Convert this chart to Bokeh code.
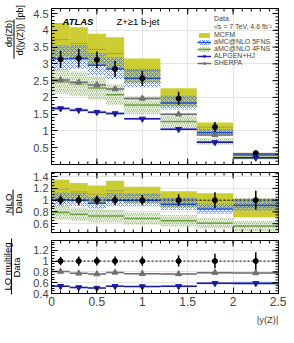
import numpy as np
from bokeh.plotting import figure
from bokeh.layouts import column, row
from bokeh.models import (Range1d, FixedTicker, LinearAxis, Legend, LegendItem,
                          Label, Span, Title)
from bokeh.core.properties import value
from bokeh.embed import file_html
from bokeh.resources import INLINE

# ---------------- data ----------------
bin_edges = [0.0, 0.2, 0.4, 0.6, 0.8, 1.2, 1.6, 2.0, 2.5]
bin_centers = [0.1, 0.3, 0.5, 0.7, 1.0, 1.4, 1.8, 2.25]

data_val = [3.13, 3.17, 3.12, 2.85, 2.57, 1.97, 1.12, 0.34]
data_err = [0.25, 0.27, 0.25, 0.24, 0.22, 0.20, 0.15, 0.055]

mcfm_val = [3.72, 3.61, 3.43, 3.31, 2.80, 2.01, 1.11, 0.30]
mcfm_hi = [4.22, 4.09, 3.90, 3.79, 3.16, 2.27, 1.25, 0.35]
mcfm_lo = [3.19, 3.11, 2.96, 2.85, 2.44, 1.73, 0.96, 0.24]

amc5_val = [3.15, 3.17, 2.96, 2.85, 2.57, 1.83, 0.95, 0.31]
amc5_hi = [3.55, 3.56, 3.33, 3.20, 2.85, 2.05, 1.06, 0.35]
amc5_lo = [2.82, 2.85, 2.66, 2.55, 2.30, 1.64, 0.86, 0.28]

amc4_val = [2.47, 2.41, 2.28, 2.08, 1.77, 1.28, 0.68, 0.19]
amc4_hi = [2.84, 2.77, 2.62, 2.39, 2.04, 1.47, 0.78, 0.22]
amc4_lo = [2.10, 2.05, 1.94, 1.77, 1.50, 1.09, 0.58, 0.16]

alpgen_val = [1.67, 1.62, 1.56, 1.52, 1.36, 1.05, 0.66, 0.20]
alpgen_hi = [1.71, 1.66, 1.60, 1.56, 1.39, 1.08, 0.68, 0.21]
alpgen_lo = [1.63, 1.58, 1.52, 1.48, 1.33, 1.02, 0.64, 0.19]

sherpa_val = [2.52, 2.45, 2.37, 2.25, 1.97, 1.50, 0.88, 0.265]
sherpa_hi = [2.56, 2.49, 2.41, 2.29, 2.00, 1.53, 0.90, 0.27]
sherpa_lo = [2.48, 2.41, 2.33, 2.21, 1.94, 1.47, 0.86, 0.26]

x_ticks = [0, 0.5, 1, 1.5, 2, 2.5]
x_tick_labels = ["0", "0.5", "1", "1.5", "2", "2.5"]
main_ticks = [0.5, 1, 1.5, 2, 2.5, 3, 3.5, 4, 4.5]
main_tick_labels = ["0.5", "1", "1.5", "2", "2.5", "3", "3.5", "4", "4.5"]
nlo_ticks = [0.6, 0.8, 1.0, 1.2, 1.4]
nlo_tick_labels = ["0.6", "0.8", "1", "1.2", "1.4"]
lo_ticks = [0.4, 0.6, 0.8, 1.0, 1.2]
lo_tick_labels = ["0.4", "0.6", "0.8", "1", "1.2"]

# ---------------- helpers ----------------
FONT = "Liberation Sans"
lefts = bin_edges[:-1]
rights = bin_edges[1:]
d = np.array(data_val)

C_MCFM = "#cccc33"
C_MCFM_LINE = "#a5a53a"
C_5F = "#2f5ff0"
C_5F_LINE = "#1f4fd8"
C_4F = "#86b85a"
C_4F_LINE = "#6aa040"
C_ALP = "#1c1ca0"
C_ALP_BAND = "#b4bcec"
C_SHE = "#707070"
C_SHE_BAND = "#cccccc"

XMIN, XMAX = 0.0, 2.5
xr = Range1d(XMIN, XMAX)


def minor_list(lo, hi, step):
    n = int(round((hi - lo) / step))
    return [round(lo + i * step, 4) for i in range(n + 1)]


X_MINOR = minor_list(0, 2.5, 0.1)


def style_axis(ax, font_size):
    ax.axis_line_color = "black"
    ax.major_tick_in = 6
    ax.major_tick_out = 0
    ax.minor_tick_in = 3
    ax.minor_tick_out = 0
    ax.major_tick_line_color = "black"
    ax.minor_tick_line_color = "black"
    ax.major_label_text_font = FONT
    ax.major_label_text_font_size = font_size
    ax.major_label_standoff = 3


def edge_ticks(p, vals, fixed, horizontal, size):
    # inward tick marks on the mirrored frame edges (half of each dash is clipped)
    if horizontal:
        p.scatter(x=[fixed] * len(vals), y=vals, marker="dash", size=size,
                  line_color="black", line_width=1)
    else:
        p.scatter(x=vals, y=[fixed] * len(vals), marker="dash", size=size,
                  angle=np.pi / 2, line_color="black", line_width=1)


def make_fig(h, ylo, yhi, yt, ytl, yminor, bt, bb, xlabels):
    p = figure(width=256, height=h, x_range=xr, y_range=Range1d(ylo, yhi),
               output_backend="svg", toolbar_location=None,
               x_axis_location=None, y_axis_location=None,
               min_border_left=17, min_border_right=8,
               min_border_top=bt, min_border_bottom=bb)
    p.outline_line_color = "black"
    ax = LinearAxis(ticker=FixedTicker(ticks=yt, minor_ticks=yminor))
    style_axis(ax, "11px")
    ax.major_label_overrides = dict(zip(yt, ytl))
    p.add_layout(ax, "left")
    if xlabels:
        bx = LinearAxis(ticker=FixedTicker(ticks=x_ticks, minor_ticks=X_MINOR))
        style_axis(bx, "12px")
        bx.major_label_overrides = dict(zip(x_ticks, x_tick_labels))
        p.add_layout(bx, "below")
    return p


def add_mirror_ticks(p, ylo, yhi, yt, yminor, bottom_too):
    edge_ticks(p, yt, XMAX, True, 12)
    edge_ticks(p, yminor, XMAX, True, 6)
    edge_ticks(p, x_ticks, yhi, False, 12)
    edge_ticks(p, X_MINOR, yhi, False, 6)
    if bottom_too:
        edge_ticks(p, x_ticks, ylo, False, 12)
        edge_ticks(p, X_MINOR, ylo, False, 6)


# ---------------- main panel ----------------
M_LO, M_HI = 0.0, 4.65
m_minor = minor_list(0, 4.6, 0.1)
p1 = make_fig(168, M_LO, M_HI, main_ticks, main_tick_labels, m_minor, 8, 4, False)

r_mcfm = p1.quad(left=lefts, right=rights, top=mcfm_hi, bottom=mcfm_lo,
                 fill_color=C_MCFM, line_color=None)
p1.segment(x0=lefts, x1=rights, y0=mcfm_val, y1=mcfm_val,
           line_color=C_MCFM_LINE, line_width=1)
r_5f = p1.quad(left=lefts, right=rights, top=amc5_hi, bottom=amc5_lo,
               fill_color=None, line_color=None, hatch_pattern="x",
               hatch_color=C_5F, hatch_scale=4, hatch_weight=0.7)
r_5f_l = p1.segment(x0=lefts, x1=rights, y0=amc5_val, y1=amc5_val,
                    line_color=C_5F_LINE, line_width=1.5)
r_4f = p1.quad(left=lefts, right=rights, top=amc4_hi, bottom=amc4_lo,
               fill_color=None, line_color=None, hatch_pattern="/",
               hatch_color=C_4F, hatch_scale=4, hatch_weight=0.8)
r_4f_l = p1.segment(x0=lefts, x1=rights, y0=amc4_val, y1=amc4_val,
                    line_color=C_4F_LINE, line_width=1.5)
p1.quad(left=lefts, right=rights, top=sherpa_hi, bottom=sherpa_lo,
        fill_color=C_SHE_BAND, line_color=None)
r_she_l = p1.segment(x0=lefts, x1=rights, y0=sherpa_val, y1=sherpa_val,
                     line_color=C_SHE, line_width=1.5)
r_she_m = p1.scatter(x=bin_centers, y=sherpa_val, marker="triangle", size=6,
                     fill_color=C_SHE, line_color=C_SHE)
p1.quad(left=lefts, right=rights, top=alpgen_hi, bottom=alpgen_lo,
        fill_color=C_ALP_BAND, line_color=None)
r_alp_l = p1.segment(x0=lefts, x1=rights, y0=alpgen_val, y1=alpgen_val,
                     line_color=C_ALP, line_width=1.5)
r_alp_m = p1.scatter(x=bin_centers, y=alpgen_val, marker="inverted_triangle", size=6,
                     fill_color=C_ALP, line_color=C_ALP)
p1.segment(x0=bin_centers, x1=bin_centers, y0=list(d - np.array(data_err)),
           y1=list(d + np.array(data_err)), line_color="black", line_width=1.5)
p1.scatter(x=bin_centers, y=data_val, marker="circle", size=5,
           fill_color="black", line_color="black")
add_mirror_ticks(p1, M_LO, M_HI, main_ticks, m_minor, True)

# legend helper renderers (empty)
r_cross = p1.scatter(x=[], y=[], marker="cross", size=9, line_color="black", line_width=1.3)
r_dot = p1.scatter(x=[], y=[], marker="circle", size=4, fill_color="black", line_color="black")
r_blank = p1.scatter(x=[], y=[], marker="circle", size=1, fill_alpha=0, line_alpha=0)

legend = Legend(items=[
    LegendItem(label="Data", renderers=[r_cross, r_dot]),
    LegendItem(label="\u221as = 7 TeV, 4.6 fb\u207b\u00b9", renderers=[r_blank]),
    LegendItem(label="MCFM", renderers=[r_mcfm]),
    LegendItem(label="aMC@NLO 5FNS", renderers=[r_5f, r_5f_l]),
    LegendItem(label="aMC@NLO 4FNS", renderers=[r_4f, r_4f_l]),
    LegendItem(label="ALPGEN+HJ", renderers=[r_alp_l, r_alp_m]),
    LegendItem(label="SHERPA", renderers=[r_she_l, r_she_m]),
], location=(146, 98), label_text_font=FONT, label_text_font_size="7px",
    glyph_width=14, glyph_height=6, label_height=6, spacing=0, padding=0, margin=0,
    label_standoff=3, border_line_color=None, background_fill_alpha=0)
p1.add_layout(legend)

p1.add_layout(Label(x=11, y=143, x_units="screen", y_units="screen", text="ATLAS",
                    text_font=FONT, text_font_style="bold italic", text_font_size="9.5px",
                    text_baseline="middle", text_color="black"))
p1.add_layout(Label(x=65, y=143, x_units="screen", y_units="screen", text="Z+\u22651 b-jet",
                    text_font=FONT, text_font_size="9.5px", text_baseline="middle",
                    text_color="black"))

# ---------------- NLO ratio panel ----------------
N_LO, N_HI = 0.45, 1.47
n_minor = minor_list(0.45, 1.45, 0.05)
p2 = make_fig(68, N_LO, N_HI, nlo_ticks, nlo_tick_labels, n_minor, 4, 4, False)
p2.quad(left=lefts, right=rights, top=list(np.array(mcfm_hi) / d),
        bottom=list(np.array(mcfm_lo) / d), fill_color=C_MCFM, line_color=None)
p2.segment(x0=lefts, x1=rights, y0=list(np.array(mcfm_val) / d),
           y1=list(np.array(mcfm_val) / d), line_color=C_MCFM_LINE, line_width=1)
p2.quad(left=lefts, right=rights, top=list(np.array(amc5_hi) / d),
        bottom=list(np.array(amc5_lo) / d), fill_color=None, line_color=None,
        hatch_pattern="x", hatch_color=C_5F, hatch_scale=4, hatch_weight=0.7)
p2.segment(x0=lefts, x1=rights, y0=list(np.array(amc5_val) / d),
           y1=list(np.array(amc5_val) / d), line_color=C_5F_LINE, line_width=1.5)
p2.quad(left=lefts, right=rights, top=list(np.array(amc4_hi) / d),
        bottom=list(np.array(amc4_lo) / d), fill_color=None, line_color=None,
        hatch_pattern="/", hatch_color=C_4F, hatch_scale=4, hatch_weight=0.8)
p2.segment(x0=lefts, x1=rights, y0=list(np.array(amc4_val) / d),
           y1=list(np.array(amc4_val) / d), line_color=C_4F_LINE, line_width=1.5)
p2.add_layout(Span(location=1, dimension="width", line_color="black",
                   line_dash="2 2", line_width=1))
rel = np.array(data_err) / d
p2.segment(x0=bin_centers, x1=bin_centers, y0=list(1 - rel), y1=list(1 + rel),
           line_color="black", line_width=1.5)
p2.scatter(x=bin_centers, y=[1] * len(bin_centers), marker="circle", size=5,
           fill_color="black", line_color="black")
add_mirror_ticks(p2, N_LO, N_HI, nlo_ticks, n_minor, True)

# ---------------- LO ratio panel ----------------
L_LO, L_HI = 0.4, 1.38
l_minor = minor_list(0.4, 1.35, 0.05)
p3 = make_fig(105, L_LO, L_HI, lo_ticks, lo_tick_labels, l_minor, 4, 48, True)
p3.quad(left=lefts, right=rights, top=list(np.array(sherpa_hi) / d),
        bottom=list(np.array(sherpa_lo) / d), fill_color=C_SHE_BAND, line_color=None)
p3.segment(x0=lefts, x1=rights, y0=list(np.array(sherpa_val) / d),
           y1=list(np.array(sherpa_val) / d), line_color=C_SHE, line_width=1.5)
p3.scatter(x=bin_centers, y=list(np.array(sherpa_val) / d), marker="triangle", size=6,
           fill_color=C_SHE, line_color=C_SHE)
p3.quad(left=lefts, right=rights, top=list(np.array(alpgen_hi) / d),
        bottom=list(np.array(alpgen_lo) / d), fill_color=C_ALP_BAND, line_color=None)
p3.segment(x0=lefts, x1=rights, y0=list(np.array(alpgen_val) / d),
           y1=list(np.array(alpgen_val) / d), line_color=C_ALP, line_width=1.5)
p3.scatter(x=bin_centers, y=list(np.array(alpgen_val) / d), marker="inverted_triangle",
           size=6, fill_color=C_ALP, line_color=C_ALP)
p3.add_layout(Span(location=1, dimension="width", line_color="black",
                   line_dash="2 2", line_width=1))
p3.segment(x0=bin_centers, x1=bin_centers, y0=list(1 - rel), y1=list(1 + rel),
           line_color="black", line_width=1.5)
p3.scatter(x=bin_centers, y=[1] * len(bin_centers), marker="circle", size=5,
           fill_color="black", line_color="black")
add_mirror_ticks(p3, L_LO, L_HI, lo_ticks, l_minor, False)
p3.add_layout(Title(text="|y(Z)|", align="right", text_font=FONT,
                    text_font_size="9.5px", text_font_style="normal",
                    standoff=6), "below")

# ---------------- y-axis titles (separate thin panel, pixel coordinates) ----------------
TOTAL_H = 168 + 68 + 105
pl = figure(width=30, height=TOTAL_H, x_range=Range1d(0, 30), y_range=Range1d(TOTAL_H, 0),
            output_backend="svg", toolbar_location=None,
            x_axis_location=None, y_axis_location=None,
            min_border_left=0, min_border_right=0, min_border_top=0, min_border_bottom=0)
pl.outline_line_color = None
pl.grid.visible = False
title_text = ["d\u03c3(Zb)", "d(|y(Z)|)", "[pb]"]
title_x = [8, 19.5, 19.5]
title_y = [33, 39, 12]
pl.text(x=title_x, y=title_y, text=title_text, angle=np.pi / 2,
        text_align="center", text_baseline="middle",
        text_font=value(FONT), text_font_size=value("9px"), text_color="black")
ratio_text = ["NLO", "Data", "LO multileg", "Data"]
ratio_x = [8, 17.5, 6.5, 16]
ratio_y = [203, 203, 266, 267]
pl.text(x=ratio_x, y=ratio_y, text=ratio_text, angle=np.pi / 2,
        text_align="center", text_baseline="middle",
        text_font=value(FONT), text_font_size=value("9.5px"), text_color="black")
bar_x = [13.5, 12.5, 11]
bar_top = [19, 189, 238]
bar_bot = [58, 215, 294]
pl.segment(x0=bar_x, x1=bar_x, y0=bar_top, y1=bar_bot, line_color="black", line_width=1)

layout = row(pl, column(p1, p2, p3, spacing=0), spacing=0)
open("out.html", "w").write(file_html(layout, INLINE))
